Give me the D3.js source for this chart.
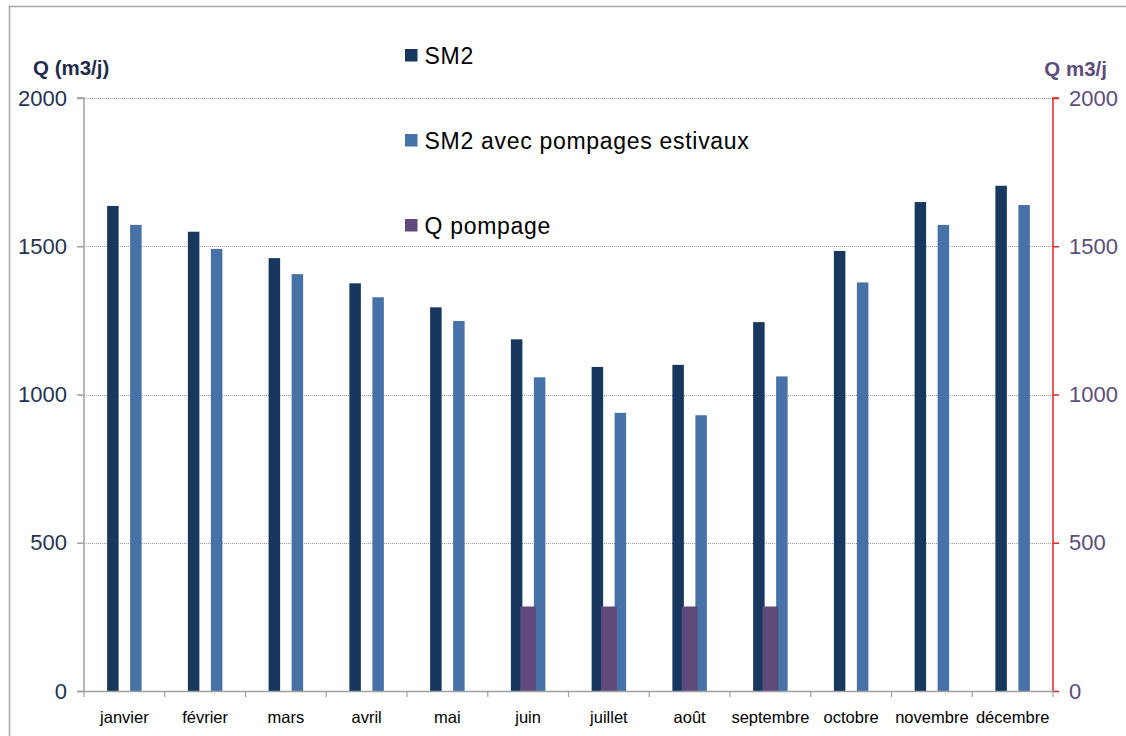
<!DOCTYPE html>
<html>
<head>
<meta charset="utf-8">
<title>SM2 débits</title>
<script src="https://cdn.jsdelivr.net/npm/d3@7"></script>
<style>
    html, body { margin: 0; background: #fff; }
    svg { display: block; font-family: "Liberation Sans", Arial, sans-serif; }
</style>
</head>
<body>
<svg id="chart" width="1126" height="736"></svg>
<script>
    "use strict";

    const months = ["janvier", "février", "mars", "avril", "mai", "juin",
        "juillet", "août", "septembre", "octobre", "novembre", "décembre"];
    const sm2 = [1636, 1549, 1460, 1375, 1294, 1186, 1093, 1100, 1244, 1484, 1649, 1704];
    const sm2Pompages = [1572, 1491, 1406, 1328, 1248, 1058, 938, 930, 1061, 1378, 1572, 1639];
    const qPompage = [0, 0, 0, 0, 0, 285, 285, 285, 285, 0, 0, 0];
    const yTicks = [0, 500, 1000, 1500, 2000];

    const series = [
        {name: "SM2", color: "#17375e", values: sm2},
        {name: "SM2 avec pompages estivaux", color: "#4672a8", values: sm2Pompages},
        {name: "Q pompage", color: "#604a7b", values: qPompage}
    ];

    const svg = d3.select("#chart");
    const plotLeft = 84, plotRight = 1053, plotTop = 98, plotBottom = 691;

    // frame of the chart area
    svg.append("rect")
        .attr("x", 9.5).attr("y", 6.5)
        .attr("width", 1130).attr("height", 740)
        .attr("fill", "none").attr("stroke", "#a6a6a6").attr("stroke-width", 1.5);

    const x = d3.scaleBand().domain(months).range([plotLeft, plotRight]).padding(0);
    const bw = x.bandwidth();
    // primary bars: three slots, middle one left empty for the pumping bar
    const x1 = d3.scaleBand().domain(["a", "gap", "b"])
        .range([bw / 2 - 17.25, bw / 2 + 17.25]);
    const x2 = d3.scaleBand().domain(["p"]).range([bw / 2 - 7.9, bw / 2 + 7.9]);

    const y = d3.scaleLinear().domain([0, 2000]).range([plotBottom, plotTop]);
    const y2 = d3.scaleLinear().domain([0, 2000]).range([plotBottom, plotTop]);

    // gridlines
    svg.append("g").selectAll("line")
        .data(yTicks.filter(d => d > 0))
        .join("line")
        .attr("x1", plotLeft).attr("x2", plotRight)
        .attr("y1", d => Math.round(y(d)) + 0.5).attr("y2", d => Math.round(y(d)) + 0.5)
        .attr("stroke", "#9a9a9a").attr("stroke-width", 1)
        .attr("stroke-dasharray", "1,1");

    // bars
    const gBars = svg.append("g");
    [[series[0], "a"], [series[1], "b"]].forEach(([s, slot]) => {
        gBars.append("g").selectAll("rect")
            .data(s.values)
            .join("rect")
            .attr("x", (d, i) => x(months[i]) + x1(slot))
            .attr("width", x1.bandwidth())
            .attr("y", d => y(d))
            .attr("height", d => y(0) - y(d))
            .attr("fill", s.color);
    });
    gBars.append("g").selectAll("rect")
        .data(series[2].values)
        .join("rect")
        .attr("x", (d, i) => x(months[i]) + x2("p"))
        .attr("width", x2.bandwidth())
        .attr("y", d => y2(d))
        .attr("height", d => y2(0) - y2(d))
        .attr("fill", series[2].color);

    // left axis
    const axL = svg.append("g")
        .attr("transform", `translate(${plotLeft},0)`)
        .call(d3.axisLeft(y).tickValues(yTicks).tickFormat(d3.format("d"))
            .tickSize(7).tickPadding(10));
    axL.selectAll("path, line").attr("stroke", "#a0a0a0").attr("stroke-width", 1.5);
    axL.select(".domain").attr("d", `M-7,${plotTop}H0V${plotBottom}`);
    axL.selectAll("text").attr("font-size", 22).attr("fill", "#1f3352")
        .attr("font-family", "Liberation Sans, Arial, sans-serif");

    // right axis
    const axR = svg.append("g")
        .attr("transform", `translate(${plotRight},0)`)
        .call(d3.axisRight(y2).tickValues(yTicks).tickFormat(d3.format("d"))
            .tickSize(6).tickPadding(10));
    axR.selectAll("path, line").attr("stroke", "#e0262b").attr("stroke-width", 1.5);
    axR.select(".domain").attr("d", `M6,${plotTop}H0V${plotBottom}`);
    axR.selectAll("text").attr("font-size", 22).attr("fill", "#5c4c7c")
        .attr("font-family", "Liberation Sans, Arial, sans-serif");

    // x axis
    const axX = svg.append("g")
        .attr("transform", `translate(0,${plotBottom})`)
        .call(d3.axisBottom(x).tickSize(0).tickPadding(20));
    axX.select(".domain").attr("d", `M${plotLeft - 7},0.5H${plotRight}`)
        .attr("stroke", "#a0a0a0").attr("stroke-width", 1.5);
    axX.selectAll("text").attr("font-size", 16.5).attr("fill", "#000")
        .attr("font-family", "Liberation Sans, Arial, sans-serif");
    axX.append("g").selectAll("line")
        .data(d3.range(months.length + 1))
        .join("line")
        .attr("x1", i => plotLeft + i * bw).attr("x2", i => plotLeft + i * bw)
        .attr("y1", 0).attr("y2", 6)
        .attr("stroke", "#a0a0a0").attr("stroke-width", 1.2);

    // axis titles
    svg.append("text").attr("x", 33).attr("y", 75)
        .attr("font-size", 20.5).attr("font-weight", "bold").attr("fill", "#1f2d4a")
        .text("Q (m3/j)");
    svg.append("text").attr("x", 1107).attr("y", 76).attr("text-anchor", "end")
        .attr("font-size", 20.5).attr("font-weight", "bold").attr("fill", "#5c4c7c")
        .text("Q m3/j");

    // legend
    const legend = svg.append("g").selectAll("g")
        .data(series)
        .join("g")
        .attr("transform", (d, i) => `translate(405,${55 + i * 85})`);
    legend.append("rect").attr("x", 0).attr("y", -6).attr("width", 12.5).attr("height", 12.5)
        .attr("fill", d => d.color);
    legend.append("text").attr("x", 19.5).attr("y", 8.5)
        .attr("font-size", 23).attr("letter-spacing", 0.7).attr("fill", "#000")
        .text(d => d.name);
</script>
</body>
</html>
